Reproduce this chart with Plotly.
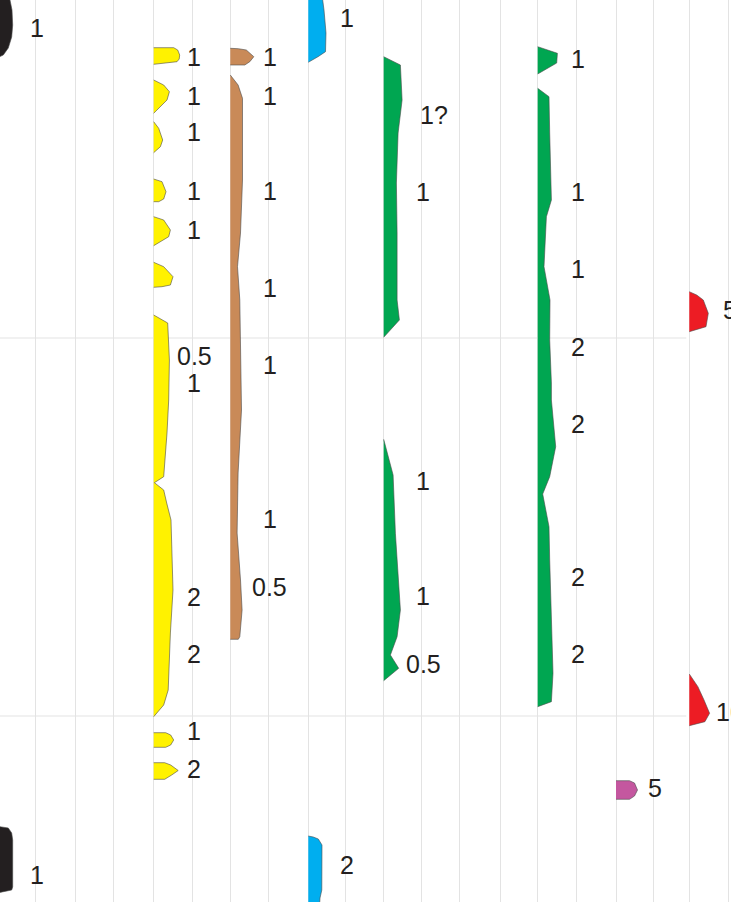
import plotly.graph_objects as go

# ---------------- data (depth in chart units, top = 0; widths = abundance-shape width) ----------------
taxa = ["black", "yellow", "brown", "blue", "green_a", "green_b", "magenta", "red"]
taxon_column = [-1, 3, 5, 7, 9, 13, 15, 17]

black_depth = [-5, -5, 0, 10, 25, 37, 48, 55, 58, None,
               826.7, 828, 833, 840, 887, 890, 893]
black_width = [0, 13, 13, 15, 15.7, 14.7, 11.3, 6.3, 0, None,
               3, 11.3, 14.7, 15.7, 15.7, 14.7, 0]

yellow_depth = [47.7, 47.7, 50, 55, 59, 61.7, 64.3, None,
                80, 85, 91.7, 100, 113.3, None,
                121.7, 128.3, 140, 146.7, 152.7, None,
                179, 181.7, 191.7, 199, 201.7, 201.7, None,
                216.7, 220, 230, 236.7, 245.7, None,
                262.3, 266.7, 276.7, 285, 286.7, 287.3, None,
                315, 323, 360, 400, 433, 456.7, 476.7, 482.7, 490, 503, 520, 590, 633, 690, 705, 716.7, None,
                732.7, 732.7, 735, 740, 745, 747.3, 747.3, None,
                762.7, 762.7, 765, 770.5, 775, 779.3, 779.3]
yellow_width = [0, 20, 24, 26, 25.5, 23.3, 0, None,
                0, 10, 15.7, 13.3, 0, None,
                0, 5, 9, 6.7, 0, None,
                0, 8.3, 12.3, 10, 5, 0, None,
                0, 10, 16.7, 15, 0, None,
                0, 10, 19.3, 16.7, 8.3, 0, None,
                0, 14, 15.7, 15, 13.3, 11.7, 10, 0.7, 10, 13, 17.3, 19.3, 16.7, 14.5, 10, 0, None,
                0, 12, 17, 20, 17, 12, 0, None,
                0, 11, 17, 24.5, 18, 11, 0]

brown_depth = [48.3, 48.7, 50, 56.7, 61.7, 65, 65, None,
               75, 85, 98.3, 180, 233, 266.7, 300, 410, 473, 533, 580, 610, 636.7, 639.3, 639.3]
brown_width = [0, 8, 16, 23.5, 19.5, 14.5, 0, None,
               0, 7.8, 12.2, 12.2, 10.2, 7.2, 9.5, 11.2, 7.8, 6.8, 10.2, 11.8, 9.5, 8, 0]

blue_depth = [-5, -5, 0, 10, 33, 51.7, 56.7, 62.3, None,
              836, 837, 839, 845, 890, 898, 910, 910]
blue_width = [0, 14.4, 14.4, 15.7, 17.7, 17.2, 9.7, 0, None,
              0, 5, 10, 13.7, 13.5, 11.7, 11, 0]

green_a_depth = [56.7, 65, 100, 133, 183, 233, 300, 320, 337.3, None,
                 439.3, 475, 533.3, 610, 636.7, 655, 668.3, 680.7]
green_a_width = [0, 16.7, 18.4, 14.4, 12.7, 13.4, 13.4, 15.7, 0, None,
                 0, 9.4, 11.7, 16.7, 13.4, 6.7, 15, 0]

green_b_depth = [46.7, 53.3, 63, 74, None,
                 88.3, 96.7, 133, 200, 216.7, 266.7, 300, 340, 383, 400, 446.7, 476.7, 494,
                 526.7, 560, 616.7, 673.3, 701.7, 706.7]
green_b_width = [0, 19.7, 19, 0, None,
                 0, 11.3, 12, 13.7, 8.7, 6.3, 12.3, 12, 13.7, 13.7, 18, 12, 5,
                 11.3, 12, 13.7, 15.3, 13.7, 0]

magenta_depth = [780.7, 780.7, 783, 790, 796, 799.3, 799.3]
magenta_width = [0, 13.5, 18.5, 21.5, 18.5, 13.5, 0]

red_depth = [291.7, 295, 300, 313.3, 326.7, 331.7, None,
             674, 686.7, 700, 713.3, 721.7, 725.7]
red_width = [0, 7.4, 14, 19, 16.7, 0, None,
             0, 8.6, 14.7, 20.3, 15.6, 0]

black_label_depth = [28, 875]
black_label_text = ["1", "1"]
yellow_label_depth = [57, 96, 132, 191, 230, 356, 383, 597, 654, 731, 769]
yellow_label_text = ["1", "1", "1", "1", "1", "0.5", "1", "2", "2", "1", "2"]
brown_label_depth = [57, 96, 191, 288, 365, 519, 587]
brown_label_text = ["1", "1", "1", "1", "1", "1", "0.5"]
blue_label_depth = [18, 865]
blue_label_text = ["1", "2"]
green_a_label_depth = [115, 192, 481, 596, 664]
green_a_label_text = ["1?", "1", "1", "1", "0.5"]
green_b_label_depth = [59, 192, 269, 347, 424, 577, 654]
green_b_label_text = ["1", "1", "1", "2", "2", "2", "2"]
magenta_label_depth = [788]
magenta_label_text = ["5"]
red_label_depth = [310, 712]
red_label_text = ["5", "10"]

boundary_depths = [338, 716]

taxon_depths = [black_depth, yellow_depth, brown_depth, blue_depth,
                green_a_depth, green_b_depth, magenta_depth, red_depth]
taxon_widths = [black_width, yellow_width, brown_width, blue_width,
                green_a_width, green_b_width, magenta_width, red_width]
taxon_label_depths = [black_label_depth, yellow_label_depth, brown_label_depth, blue_label_depth,
                      green_a_label_depth, green_b_label_depth, magenta_label_depth, red_label_depth]
taxon_label_texts = [black_label_text, yellow_label_text, brown_label_text, blue_label_text,
                     green_a_label_text, green_b_label_text, magenta_label_text, red_label_text]

# ---------------- style / layout ----------------
# x position of the column (grid) lines for column index -1 .. 18
COLUMN_LINES = [-3, 35.3, 75.7, 113, 153.7, 192.7, 230.3, 268.3, 308.3, 345.7, 383.7,
                421.7, 459.7, 500, 537.7, 576.3, 616, 653.7, 689.3, 728.7]
W, H = 731, 902
fill_colors = {
    "black": "#231f20", "yellow": "#fff200", "brown": "#c98a58", "blue": "#00aeef",
    "green_a": "#00a651", "green_b": "#00a651", "magenta": "#c4579f", "red": "#ed1c24",
}
outline = "#4a4a4a"
grid = "#e3e3e3"
text_color = "#231f20"
FONT = "Liberation Sans, Arial, sans-serif"


def col_x(k):
    return COLUMN_LINES[k + 1]


fig = go.Figure()
annotations = []
for name, col, depths, widths, ldepths, ltexts in zip(
        taxa, taxon_column, taxon_depths, taxon_widths, taxon_label_depths, taxon_label_texts):
    base = col_x(col)
    xs = [None if w is None else base + w for w in widths]
    fig.add_trace(go.Scatter(
        x=xs, y=depths, mode="lines", fill="toself",
        fillcolor=fill_colors[name], line=dict(color=outline, width=0.6),
        hoverinfo="skip", showlegend=False, name=name,
    ))
    label_x = col_x(col + 1)
    for d, t in zip(ldepths, ltexts):
        if t.endswith("?"):
            annotations.append(dict(x=label_x, y=d, text=t, showarrow=False,
                                    xanchor="left", yanchor="middle", xshift=-4,
                                    font=dict(family=FONT, size=25, color=text_color)))
        else:
            annotations.append(dict(x=label_x, y=d, text=t, showarrow=False,
                                    xanchor="center", yanchor="middle", xshift=1.5,
                                    font=dict(family=FONT, size=25, color=text_color)))

shapes = [dict(type="line", xref="x", yref="y", x0=0, x1=col_x(17) - 3,
               y0=d, y1=d, line=dict(color=grid, width=1), layer="below")
          for d in boundary_depths]

fig.update_layout(
    width=W, height=H, margin=dict(l=0, r=0, t=0, b=0),
    paper_bgcolor="white", plot_bgcolor="white",
    annotations=annotations, shapes=shapes,
    xaxis=dict(range=[0, W], tickmode="array", tickvals=COLUMN_LINES, showgrid=True,
               gridcolor=grid, gridwidth=1, showticklabels=False, zeroline=False,
               showline=False, ticks=""),
    yaxis=dict(range=[H, 0], showgrid=False, showticklabels=False, zeroline=False,
               showline=False, ticks=""),
)

fig.write_html("out.html", config={"displayModeBar": False},
               post_script="document.body.style.margin='0';document.body.style.overflow='hidden';")
